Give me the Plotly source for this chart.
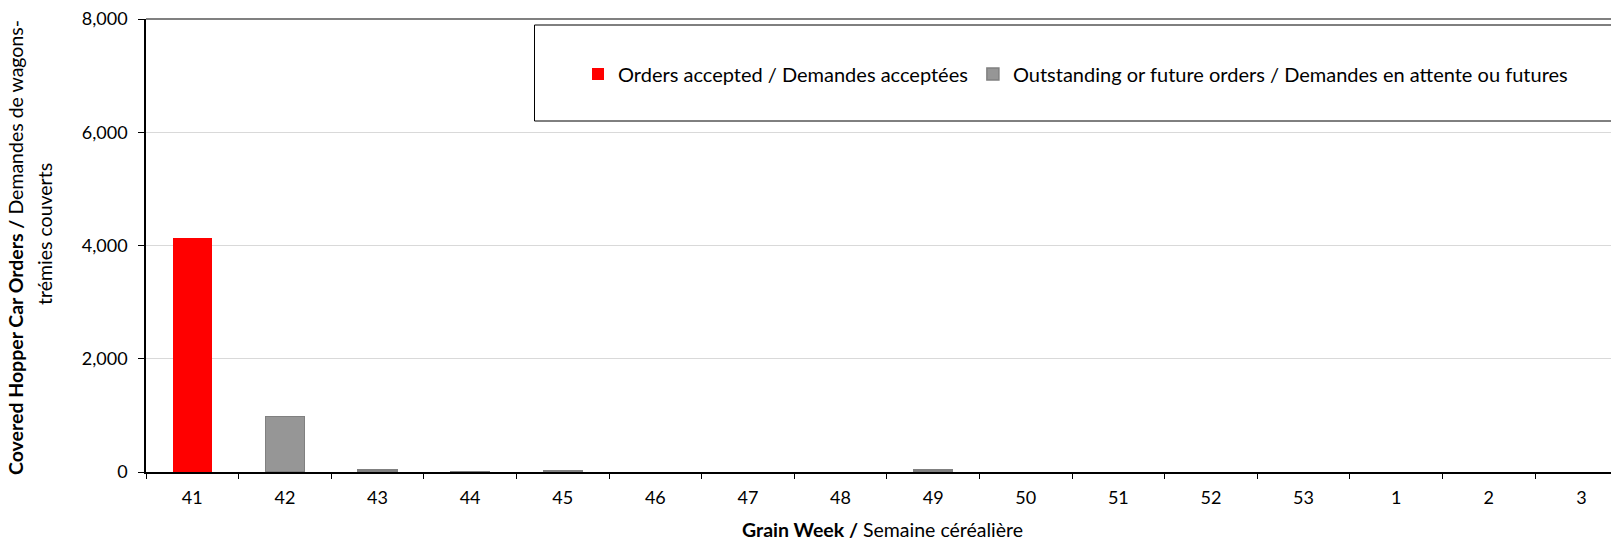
import plotly.graph_objects as go

weeks = ["41", "42", "43", "44", "45", "46", "47", "48", "49", "50", "51", "52", "53", "1", "2", "3"]
accepted = [4140, None, None, None, None, None, None, None, None, None, None, None, None, None, None, None]
outstanding = [None, 980, 35, 12, 30, None, None, None, 35, None, None, None, None, None, None, None]
y_ticks = [0, 2000, 4000, 6000, 8000]

FONT = "Lato"

W, H = 1611, 540
ML, MT, MB = 146, 19, 68
PW, PH = W - ML, H - MT - MB


def px(xf):
    return (xf - ML) / PW


def py(yf):
    return (H - MB - yf) / PH


fig = go.Figure()
fig.add_trace(go.Bar(
    x=weeks, y=accepted, name="Orders accepted / Demandes acceptées",
    marker=dict(color="#ff0000", line=dict(color="#ff0000", width=0)),
    width=0.42,
))
fig.add_trace(go.Bar(
    x=weeks, y=outstanding, name="Outstanding or future orders / Demandes en attente ou futures",
    marker=dict(color="#969696", line=dict(color="#808080", width=1.5)),
    width=0.42,
))

fig.update_layout(
    width=W, height=H,
    barmode="stack",
    paper_bgcolor="white", plot_bgcolor="white",
    margin=dict(l=ML, r=0, t=MT, b=MB, autoexpand=False),
    font=dict(family=FONT, size=18, color="#000000"),
    showlegend=True,
    legend=dict(
        orientation="h", x=px(578), y=py(74), xanchor="left", yanchor="middle",
        bgcolor="rgba(0,0,0,0)", borderwidth=0,
        font=dict(family=FONT, size=20, color="#000000"),
        traceorder="normal",
    ),
    xaxis=dict(
        type="category", categoryorder="array", categoryarray=weeks,
        range=[-0.5, 15.32],
        showline=True, linecolor="#000000", linewidth=1.5,
        ticks="outside", tickson="boundaries", ticklen=5, tickcolor="#000000", tickwidth=1,
        showgrid=False, zeroline=False,
        tickfont=dict(family=FONT, size=18),
        ticklabelstandoff=9,
        ticklabeloverflow="allow",
    ),
    yaxis=dict(
        range=[0, 8000], tickvals=y_ticks, tickformat=",d",
        showline=True, linecolor="#000000", linewidth=1.5,
        ticks="outside", ticklen=6, tickcolor="#000000", tickwidth=1,
        showgrid=True, gridcolor="#d9d9d9", gridwidth=1,
        zeroline=False,
        tickfont=dict(family=FONT, size=18),
        ticklabelstandoff=7,
        ticklabeloverflow="allow",
    ),
    shapes=[
        dict(type="line", xref="paper", yref="paper", x0=0, x1=1, y0=1, y1=1,
             line=dict(color="#808080", width=2)),
        dict(type="rect", xref="paper", yref="paper", x0=px(534.5), x1=1.01, y0=py(121), y1=py(25),
             line=dict(color="#000000", width=1), fillcolor="rgba(0,0,0,0)"),
    ],
    annotations=[
        dict(text="<b>Grain Week /</b> Semaine céréalière", xref="paper", yref="paper",
             x=px(883), y=py(529), xanchor="center", yanchor="middle",
             showarrow=False, font=dict(family=FONT, size=19.5)),
        dict(text="<b>Covered Hopper Car Orders /</b> Demandes de wagons-", xref="paper", yref="paper",
             x=px(16), y=py(248), xanchor="center", yanchor="middle",
             textangle=-90, showarrow=False, font=dict(family=FONT, size=19.5)),
        dict(text="trémies couverts", xref="paper", yref="paper",
             x=px(44), y=py(234), xanchor="center", yanchor="middle",
             textangle=-90, showarrow=False, font=dict(family=FONT, size=19.5)),
    ],
)

fig.write_html(
    "out.html",
    config={"displayModeBar": False},
    default_width=f"{W}px", default_height=f"{H}px",
    post_script="document.body.style.margin='0';document.body.style.overflow='hidden';",
)
